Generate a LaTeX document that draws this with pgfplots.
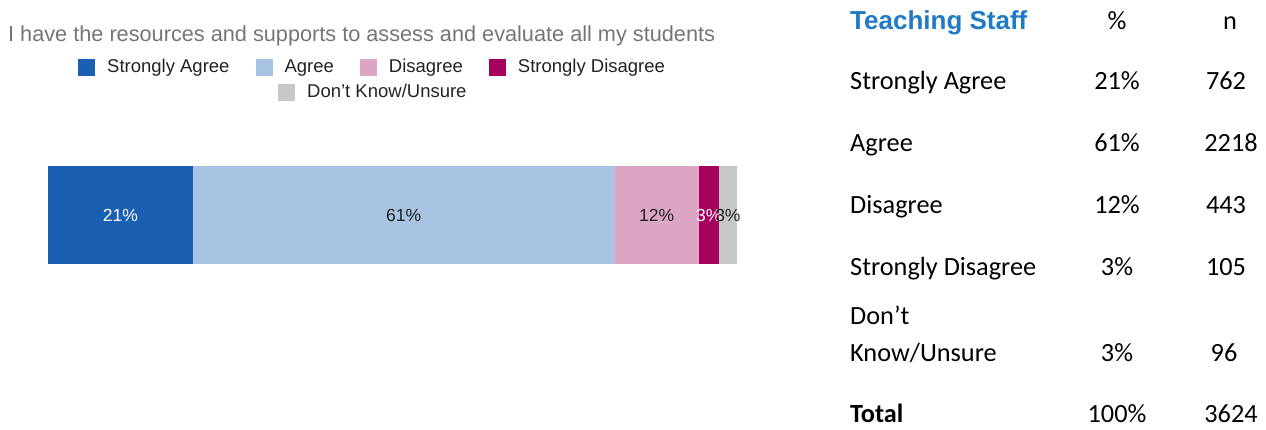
\documentclass[border=0pt]{standalone}
\usepackage{fontspec}
\setmainfont{Liberation Sans}
\newfontfamily\tablefont{Carlito}
\usepackage{pgfplots}
\pgfplotsset{compat=1.18}
\definecolor{cSA}{HTML}{1B5FB3}
\definecolor{cA}{HTML}{A7C3E1}
\definecolor{cD}{HTML}{DDA5C4}
\definecolor{cSD}{HTML}{A6005F}
\definecolor{cDK}{HTML}{C7C7C7}
\definecolor{titlegray}{HTML}{757575}
\definecolor{legtext}{HTML}{222222}
\definecolor{tblue}{HTML}{1F7BC4}
\begin{document}
\begin{tikzpicture}[x=1pt,y=1pt]
\useasboundingbox (0,0) rectangle (1266,430);
\pgfplotsset{every axis/.append style={scale only axis, width=689pt, height=98pt,
  xmin=0, xmax=100, ymin=-0.5, ymax=0.5, at={(48pt,166pt)}, anchor=south west,
  enlargelimits=false, hide axis}}
% title
\node[anchor=base west, inner sep=0pt, text=titlegray, font=\fontsize{21.7}{26}\selectfont] at (8,388) {I have the resources and supports to assess and evaluate all my students};
\begin{axis}[
  xbar stacked, bar width=98pt,
  legend columns=4,
  legend style={at={(0.0435,2.01)}, anchor=west, draw=none, fill=none, inner sep=0pt,
    font=\fontsize{18.5}{22}\selectfont, text=legtext,
    /tikz/every odd column/.append style={column sep=10pt},
    /tikz/every even column/.append style={column sep=24pt}},
  legend image code/.code={\fill[#1] (0pt,-8.5pt) rectangle (17pt,8.5pt);},
]
\addplot[fill=cSA, draw=none] coordinates {(21.03,0)};
\addplot[fill=cA, draw=none] coordinates {(61.20,0)};
\addplot[fill=cD, draw=none] coordinates {(12.22,0)};
\addplot[fill=cSD, draw=none] coordinates {(2.90,0)};
\addplot[fill=cDK, draw=none] coordinates {(2.65,0)};
\legend{Strongly Agree, Agree, Disagree, Strongly Disagree}
\node[anchor=east, inner sep=0pt, font=\fontsize{17.5}{20}\selectfont, text=legtext] at (axis cs:0,0) [xshift=-11pt] {\%};
\end{axis}
\begin{axis}[
  legend style={at={(0.3338,1.755)}, anchor=west, draw=none, fill=none, inner sep=0pt,
    font=\fontsize{18.5}{22}\selectfont, text=legtext,
    /tikz/every odd column/.append style={column sep=10pt}},
  legend image code/.code={\fill[#1] (0pt,-8.5pt) rectangle (17pt,8.5pt);},
  nodes near coords, point meta=explicit symbolic,
  every node near coord/.append style={anchor=center, font=\fontsize{17.5}{20}\selectfont},
]
\addlegendimage{fill=cDK, draw=none}
\addlegendentry{Don’t Know/Unsure}
\addplot[draw=none, mark=none, every node near coord/.append style={text=white}] coordinates {(10.515,0) [21\%]};
\addplot[draw=none, mark=none, every node near coord/.append style={text=legtext}] coordinates {(51.63,0) [61\%]};
\addplot[draw=none, mark=none, every node near coord/.append style={text=legtext}] coordinates {(88.34,0) [12\%]};
\addplot[draw=none, mark=none, every node near coord/.append style={text=white}] coordinates {(95.90,0) [3\%]};
\addplot[draw=none, mark=none, every node near coord/.append style={text=legtext}] coordinates {(98.68,0) [3\%]};
\end{axis}
% table
\begin{scope}[every node/.style={inner sep=0pt}]
\node[anchor=base west, text=tblue, font=\fontsize{26}{30}\selectfont\bfseries] at (850,400) {Teaching Staff};
\tablefont\fontsize{26.3}{30}\selectfont
\node[anchor=base] at (1117,400) {\%};
\node[anchor=base] at (1230,400) {n};
\node[anchor=base west] at (850,340) {Strongly Agree};
\node[anchor=base] at (1117,340) {21\%};
\node[anchor=base] at (1226,340) {762};
\node[anchor=base west] at (850,278) {Agree};
\node[anchor=base] at (1117,278) {61\%};
\node[anchor=base] at (1231,278) {2218};
\node[anchor=base west] at (850,216) {Disagree};
\node[anchor=base] at (1117,216) {12\%};
\node[anchor=base] at (1226,216) {443};
\node[anchor=base west] at (850,154) {Strongly Disagree};
\node[anchor=base] at (1117,154) {3\%};
\node[anchor=base] at (1226,154) {105};
\node[anchor=base west] at (850,105) {Don’t};
\node[anchor=base west] at (850,68) {Know/Unsure};
\node[anchor=base] at (1117,68) {3\%};
\node[anchor=base] at (1224,68) {96};
\node[anchor=base west] at (850,7) {\bfseries Total};
\node[anchor=base] at (1117,7) {100\%};
\node[anchor=base] at (1231,7) {3624};
\end{scope}
\end{tikzpicture}
\end{document}
